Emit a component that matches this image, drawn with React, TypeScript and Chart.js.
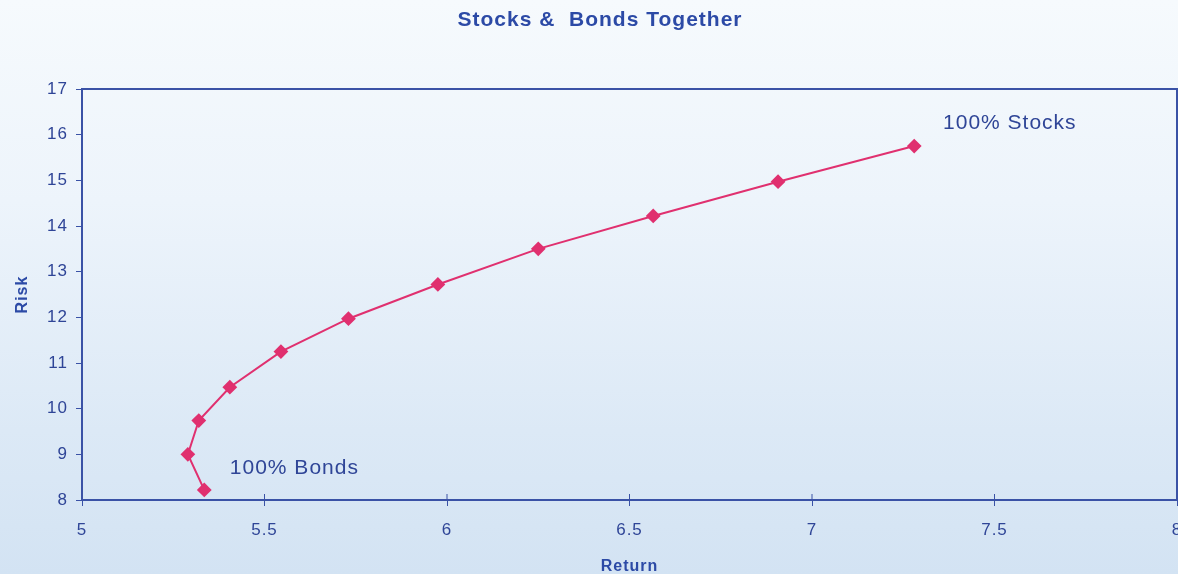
import React, { useEffect, useRef } from "react";
import { Chart, registerables } from "chart.js";

Chart.register(...registerables);

const titleText = "Stocks &  Bonds Together";
const xAxisTitle = "Return";
const yAxisTitle = "Risk";
// Return values (x) and Risk values (y), from 100% Bonds to 100% Stocks
const returnValues = [5.335, 5.29, 5.32, 5.405, 5.545, 5.73, 5.975, 6.25, 6.565, 6.907, 7.28];
const riskValues = [8.22, 9.0, 9.74, 10.47, 11.25, 11.97, 12.72, 13.5, 14.22, 14.97, 15.75];
const annotations = [
  { text: "100% Bonds", x: 5.405, y: 8.69 },
  { text: "100% Stocks", x: 7.359, y: 16.26 },
];

const BLUE = "#2f4597";
const LINE = "#e0306f";
const FONT = "'Liberation Sans', Arial, sans-serif";

export default function App() {
  const ref = useRef<HTMLCanvasElement>(null);
  useEffect(() => {
    document.body.style.margin = "0";
    const canvas = ref.current!;
    const spacingPlugin = {
      id: "spacing",
      beforeDraw(chart: any) {
        chart.ctx.letterSpacing = "1px";
        const ctx = chart.ctx;
        ctx.save();
        ctx.fillStyle = "#2c4aa6";
        ctx.font = `bold 21px ${FONT}`;
        ctx.letterSpacing = "1px";
        ctx.textAlign = "center";
        ctx.textBaseline = "middle";
        ctx.fillText(titleText, 600, 20);
        ctx.restore();
      },
    };
    const framePlugin = {
      id: "frame",
      afterDatasetsDraw(chart: any) {
        const { ctx, chartArea: a, scales } = chart;
        ctx.save();
        ctx.strokeStyle = "#3a52a6";
        ctx.lineWidth = 2;
        ctx.beginPath();
        ctx.moveTo(a.left, a.bottom);
        ctx.lineTo(a.left, a.top);
        ctx.lineTo(a.right, a.top);
        ctx.lineTo(a.right, a.bottom);
        ctx.lineTo(a.left, a.bottom);
        ctx.stroke();
        // upward part of the x tick marks
        ctx.lineWidth = 1;
        scales.x.ticks.forEach((t: any) => {
          const px = scales.x.getPixelForValue(t.value);
          ctx.beginPath();
          ctx.moveTo(px, a.bottom);
          ctx.lineTo(px, a.bottom - 6);
          ctx.stroke();
        });
        ctx.fillStyle = BLUE;
        ctx.font = `21px ${FONT}`;
        ctx.letterSpacing = "1px";
        ctx.textAlign = "left";
        ctx.textBaseline = "middle";
        annotations.forEach((an) => {
          ctx.fillText(an.text, scales.x.getPixelForValue(an.x), scales.y.getPixelForValue(an.y));
        });
        ctx.restore();
      },
    };
    const chart = new Chart(canvas, {
      type: "scatter",
      data: {
        datasets: [
          {
            data: returnValues.map((x, i) => ({ x, y: riskValues[i] })),
            showLine: true,
            borderColor: LINE,
            backgroundColor: LINE,
            borderWidth: 2,
            pointStyle: "rectRot",
            pointRadius: 6,
            pointHoverRadius: 6,
            tension: 0,
          },
        ],
      },
      options: {
        responsive: false,
        animation: false,
        events: [],
        layout: { autoPadding: false, padding: { left: 0, right: 1, top: 89, bottom: 0 } },
        plugins: {
          legend: { display: false },
          tooltip: { enabled: false },
          title: { display: false },
        },
        scales: {
          x: {
            type: "linear",
            min: 5,
            max: 8,
            ticks: {
              stepSize: 0.5,
              color: BLUE,
              padding: 14,
              font: { family: FONT, size: 17 },
              callback: (v: any) => String(Number(v)),
            },
            grid: { display: true, drawOnChartArea: false, drawTicks: true, tickLength: 6, color: "#3a52a6" },
            border: { display: false },
            title: {
              display: true,
              text: xAxisTitle,
              color: "#2c4aa6",
              font: { family: FONT, size: 16, weight: "bold" },
              padding: { top: 0, bottom: -2 },
            },
            afterFit(s: any) {
              s.height = 74;
              s.paddingRight = 0;
              s.paddingLeft = 0;
            },
          },
          y: {
            type: "linear",
            min: 8,
            max: 17,
            ticks: {
              stepSize: 1,
              color: BLUE,
              padding: 8,
              font: { family: FONT, size: 17 },
              callback: (v: any) => String(Number(v)),
            },
            grid: { display: true, drawOnChartArea: false, drawTicks: true, tickLength: 6, color: "#3a52a6" },
            border: { display: false },
            title: {
              display: true,
              text: yAxisTitle,
              color: "#2c4aa6",
              font: { family: FONT, size: 16, weight: "bold" },
              padding: { top: 13, bottom: 0 },
            },
            afterFit(s: any) {
              s.width = 82;
              s.paddingTop = 0;
              s.paddingBottom = 0;
            },
          },
        },
      },
      plugins: [spacingPlugin, framePlugin],
    });
    return () => chart.destroy();
  }, []);
  return (
    <div
      style={{
        position: "absolute",
        left: 0,
        top: 0,
        width: 1178,
        height: 574,
        background: "linear-gradient(to bottom, #f6fafd 0%, #edf4fb 35%, #dce9f6 75%, #d3e3f3 100%)",
      }}
    >
      <canvas ref={ref} width={1178} height={574} />
    </div>
  );
}
